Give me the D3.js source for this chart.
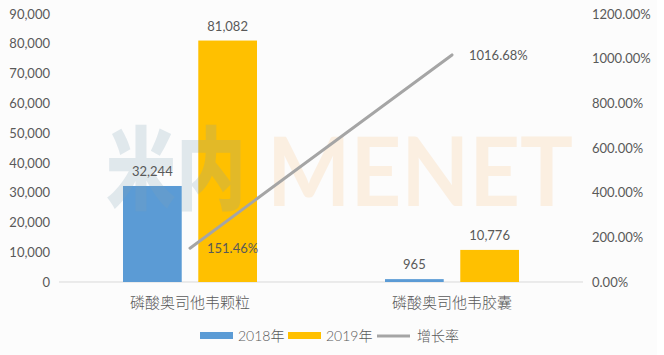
<!DOCTYPE html>
<html>
<head>
<meta charset="utf-8">
<script src="https://cdn.jsdelivr.net/npm/d3@7"></script>
<style>
  body { margin: 0; background: #fff; }
  text { font-family: Lato, "Noto Sans CJK SC", sans-serif; fill: #595959; }
</style>
</head>
<body>
<div id="chart"></div>
<script>
// Data
const categories = ["磷酸奥司他韦颗粒", "磷酸奥司他韦胶囊"];
const series = ["2018年", "2019年"];
const sales2018 = [32244, 965];
const sales2019 = [81082, 10776];
const growth = [151.46, 1016.68];
const leftTicks = [0, 10000, 20000, 30000, 40000, 50000, 60000, 70000, 80000, 90000];
const rightTicks = [0, 200, 400, 600, 800, 1000, 1200];

const colors = {"2018年": "#5B9BD5", "2019年": "#FFC000", line: "#A5A5A5"};

let margin = {top: 14, right: 81, bottom: 73, left: 59},
    width = 664 - margin.left - margin.right,
    height = 355 - margin.top - margin.bottom;

let svg = d3.select("#chart").append("svg")
    .attr("width", 664)
    .attr("height", 355);

// slightly off-white chart area, like the screenshot
svg.append("rect").attr("width", 657).attr("height", 355).attr("fill", "#fcfcfc");

let g = svg.append("g")
    .attr("transform", "translate(" + margin.left + "," + margin.top + ")");

// Scales
let xScale = d3.scaleBand().domain(categories).range([0, width]);
let seriesScale = d3.scaleBand().domain(series)
    .range([xScale.bandwidth() / 2 - 67, xScale.bandwidth() / 2 + 67])
    .paddingInner(0.22);
let yLeft = d3.scaleLinear().domain([0, 90000]).range([height, 0]);
let yRight = d3.scaleLinear().domain([0, 1200]).range([height, 0]);

// Axes (labels only)
let leftAxis = d3.axisLeft(yLeft).tickValues(leftTicks)
    .tickFormat(d3.format(",")).tickSize(0).tickPadding(9);
let rightAxis = d3.axisRight(yRight).tickValues(rightTicks)
    .tickFormat(d => d.toFixed(2) + "%").tickSize(0).tickPadding(9);

g.append("g").call(leftAxis)
    .call(a => a.select(".domain").remove())
    .selectAll("text").attr("font-size", 13).attr("font-family", "Lato").attr("fill", "#595959");

g.append("g").attr("transform", "translate(" + width + ",0)").call(rightAxis)
    .call(a => a.select(".domain").remove())
    .selectAll("text").attr("font-size", 13).attr("font-family", "Lato").attr("fill", "#595959");

// Baseline
g.append("line")
    .attr("x1", 0).attr("x2", width)
    .attr("y1", yLeft(0)).attr("y2", yLeft(0))
    .attr("stroke", "#d9d9d9").attr("stroke-width", 1);

// Bars
let rows = [];
categories.forEach((c, i) => {
    rows.push({cat: c, s: "2018年", v: sales2018[i]});
    rows.push({cat: c, s: "2019年", v: sales2019[i]});
});

g.selectAll(".bar").data(rows).enter().append("rect")
    .attr("class", "bar")
    .attr("x", d => xScale(d.cat) + seriesScale(d.s))
    .attr("width", seriesScale.bandwidth())
    .attr("y", d => yLeft(d.v))
    .attr("height", d => yLeft(0) - yLeft(d.v))
    .attr("fill", d => colors[d.s]);

// Watermark (faint overlay)
let wm = g.append("g").attr("pointer-events", "none");
wm.append("text")
    .attr("x", 47).attr("y", 188)
    .attr("font-family", "Noto Sans CJK SC").attr("font-weight", 900)
    .attr("font-size", 90)
    .attr("textLength", 140).attr("lengthAdjust", "spacingAndGlyphs")
    .style("fill", "#7fa3b8")
    .attr("opacity", 0.22)
    .text("米内");
wm.append("text")
    .attr("x", 208).attr("y", 192)
    .attr("font-family", "Liberation Sans").attr("font-weight", "bold")
    .attr("font-size", 96)
    .attr("textLength", 306).attr("lengthAdjust", "spacingAndGlyphs")
    .style("fill", "#f7a850")
    .attr("opacity", 0.15)
    .text("MENET");

// Bar value labels
g.selectAll(".val").data(rows).enter().append("text")
    .attr("class", "val")
    .attr("x", d => xScale(d.cat) + seriesScale(d.s) + seriesScale.bandwidth() / 2)
    .attr("y", d => yLeft(d.v) - 10)
    .attr("text-anchor", "middle")
    .attr("font-size", 13)
    .text(d => d3.format(",")(d.v));

// Growth line
let linePts = categories.map((c, i) => [xScale(c) + xScale.bandwidth() / 2, yRight(growth[i])]);
g.append("path")
    .attr("d", d3.line()(linePts))
    .attr("fill", "none")
    .attr("stroke", colors.line)
    .attr("stroke-width", 3)
    .attr("stroke-linecap", "round");

g.selectAll(".gl").data(growth).enter().append("text")
    .attr("class", "gl")
    .attr("x", (d, i) => xScale(categories[i]) + xScale.bandwidth() / 2 + 17)
    .attr("y", d => yRight(d) + 5)
    .attr("font-size", 13)
    .text(d => d.toFixed(2) + "%");

// Category labels
g.selectAll(".cat").data(categories).enter().append("text")
    .attr("class", "cat")
    .attr("x", d => xScale(d) + xScale.bandwidth() / 2)
    .attr("y", height + 26)
    .attr("text-anchor", "middle")
    .attr("font-family", "Noto Sans CJK SC").attr("font-weight", 300)
    .attr("font-size", 15)
    .text(d => d);

// Legend
let legend = svg.append("g").attr("transform", "translate(200,336)");
let legendItems = [
    {name: "2018年", x: 0, type: "rect"},
    {name: "2019年", x: 88, type: "rect"},
    {name: "增长率", x: 177, type: "line"}
];
legendItems.forEach(it => {
    if (it.type === "rect") {
        legend.append("rect").attr("x", it.x).attr("y", -4)
            .attr("width", 33).attr("height", 7).attr("fill", colors[it.name]);
    } else {
        legend.append("line").attr("x1", it.x).attr("x2", it.x + 33)
            .attr("y1", 0).attr("y2", 0)
            .attr("stroke", colors.line).attr("stroke-width", 3);
    }
    legend.append("text").attr("x", it.x + (it.type === "line" ? 40 : 38)).attr("y", 5)
        .attr("font-family", "Lato, 'Noto Sans CJK SC'")
        .attr("font-weight", 300)
        .attr("font-size", 14)
        .text(it.name);
});
</script>
</body>
</html>
